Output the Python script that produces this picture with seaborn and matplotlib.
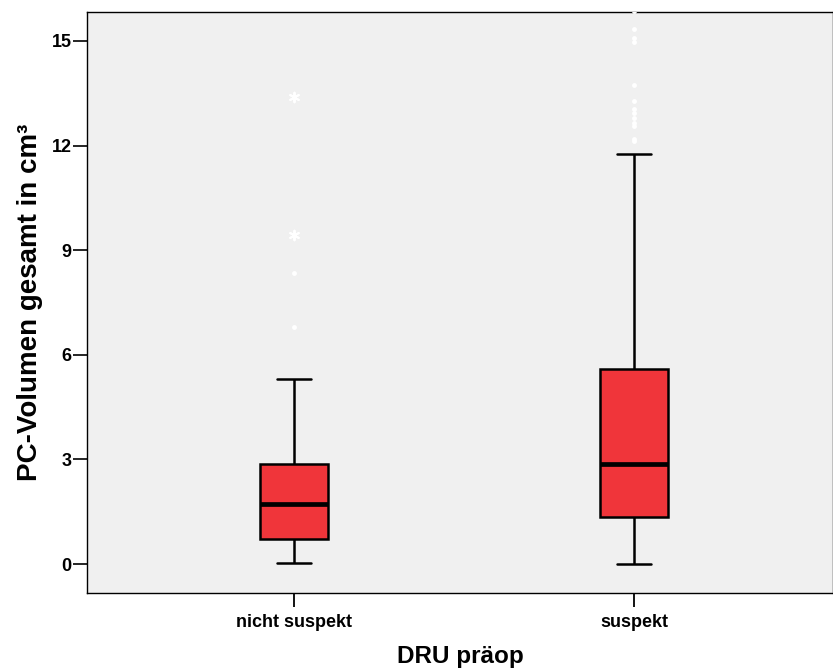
import matplotlib
matplotlib.use("Agg")
import matplotlib.pyplot as plt
import seaborn as sns
import pandas as pd

# Five-number summaries (whisker min, Q1, median, Q3, whisker max)
categories = ["nicht suspekt", "suspekt"]
summary_nicht = [0.03, 0.72, 1.72, 2.86, 5.30]
summary_susp = [0.0, 1.35, 2.87, 5.58, 11.75]

# Outliers (circles) and extreme values (asterisks)
out_nicht = [6.80, 8.35]
ext_nicht = [9.43, 13.40]
out_susp = [12.13, 12.19, 12.56, 12.65, 12.79, 12.93, 13.05, 13.28, 13.74,
            14.97, 15.08, 15.34, 15.85]

box_df = pd.DataFrame({
    "DRU": [categories[0]] * len(summary_nicht) + [categories[1]] * len(summary_susp),
    "val": summary_nicht + summary_susp,
})
out_df = pd.DataFrame({
    "DRU": [categories[0]] * len(out_nicht) + [categories[1]] * len(out_susp),
    "val": out_nicht + out_susp,
})
ext_df = pd.DataFrame({
    "DRU": [categories[0]] * len(ext_nicht),
    "val": ext_nicht,
})

sns.set_style("white")
plt.rcParams["font.family"] = ["Liberation Sans", "DejaVu Sans"]
plt.rcParams["text.color"] = "black"
plt.rcParams["axes.labelcolor"] = "black"
plt.rcParams["xtick.color"] = "black"
plt.rcParams["ytick.color"] = "black"

fig = plt.figure(figsize=(8.33, 6.69), dpi=100)
ax = fig.add_axes([0.1044, 0.1136, 0.8956, 0.8684])
ax.set_facecolor("#F0F0F0")

sns.boxplot(data=box_df, x="DRU", y="val", order=categories, whis=(0, 100),
            width=0.2, color="#F0353A", saturation=1, linecolor="black",
            linewidth=1.8, showfliers=False, ax=ax,
            medianprops={"linewidth": 3.4, "color": "black"},
            capwidths=0.1)
sns.stripplot(data=out_df, x="DRU", y="val", order=categories, jitter=False,
              color="white", marker="o", size=3.5, linewidth=0, ax=ax, clip_on=True)
sns.stripplot(data=ext_df, x="DRU", y="val", order=categories, jitter=False,
              color="white", marker=(6, 2, 0), size=7, linewidth=1.4,
              edgecolor="white", ax=ax)

ax.set_xlim(-0.611, 1.586)
ax.set_ylim(-0.83, 15.83)
ax.set_yticks([0, 3, 6, 9, 12, 15])
ax.set_yticklabels(["0", "3", "6", "9", "12", "15"])

for s in ["left", "bottom", "top", "right"]:
    ax.spines[s].set_visible(True)
    ax.spines[s].set_color("black")
    ax.spines[s].set_linewidth(1.0)

ax.tick_params(axis="y", direction="out", length=10, width=1.2, color="black",
               labelsize=13, pad=1, left=True, labelcolor="black")
ax.tick_params(axis="x", direction="out", length=10, width=1.3, color="black",
               labelsize=13, pad=5, bottom=True, labelcolor="black")
for lab in ax.get_xticklabels() + ax.get_yticklabels():
    lab.set_fontweight("bold")

ax.set_xlabel("DRU präop", fontsize=17.5, fontweight="bold", labelpad=10, color="black")
ax.set_ylabel("PC-Volumen gesamt in cm³", fontsize=20, fontweight="bold", labelpad=6,
              color="black")

fig.savefig("out.png", dpi=100)
